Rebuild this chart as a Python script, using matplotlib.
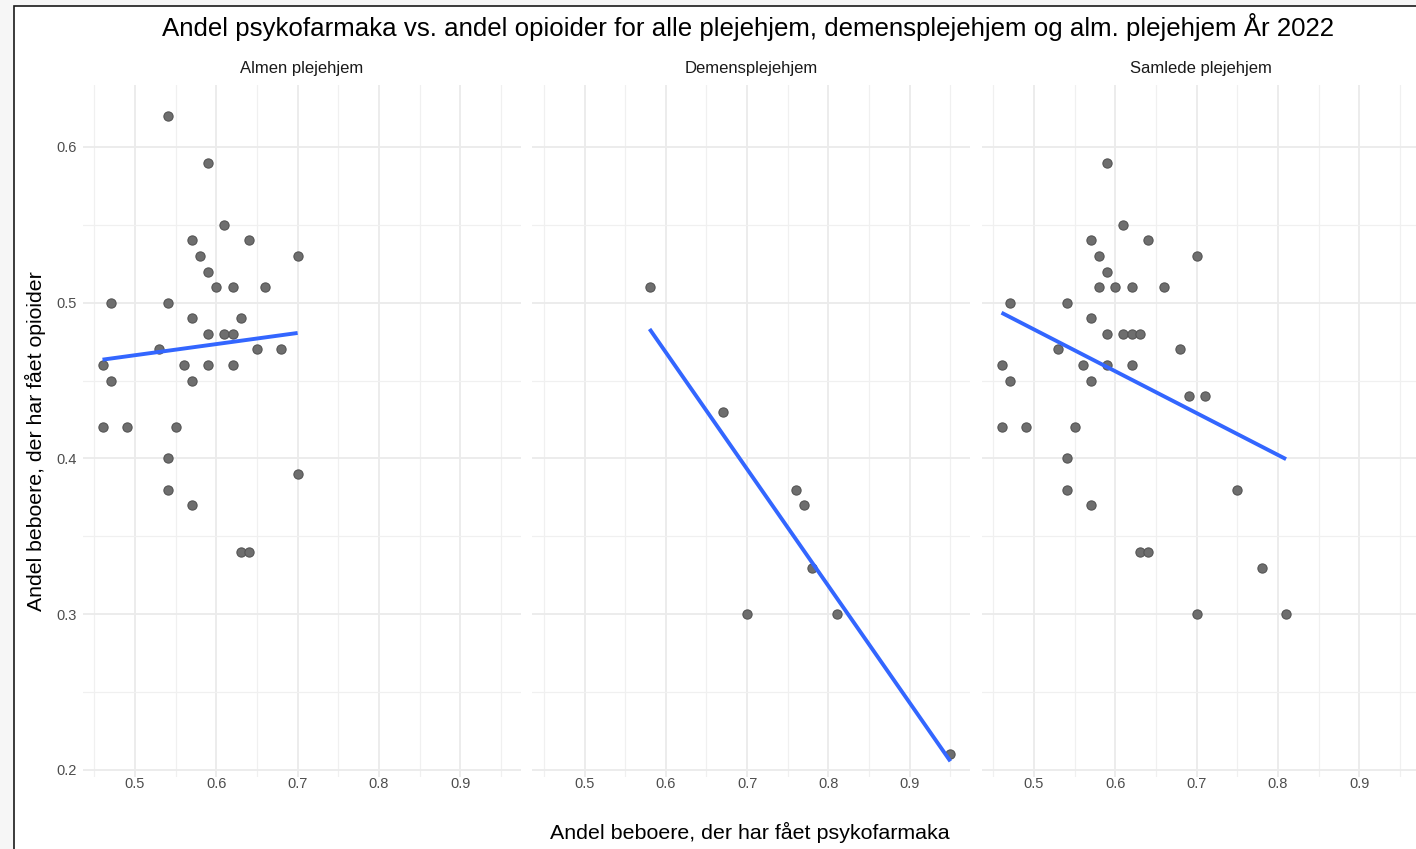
import numpy as np
import matplotlib
matplotlib.use("Agg")
import matplotlib.pyplot as plt
from matplotlib.patches import Rectangle
from matplotlib.ticker import MultipleLocator

plt.rcParams['font.family'] = ['Liberation Sans', 'DejaVu Sans']

title = "Andel psykofarmaka vs. andel opioider for alle plejehjem, demensplejehjem og alm. plejehjem År 2022"
panel_titles = ["Almen plejehjem", "Demensplejehjem", "Samlede plejehjem"]
xlabel = "Andel beboere, der har fået psykofarmaka"
ylabel = "Andel beboere, der har fået opioider"

almen_x = [0.54, 0.59, 0.61, 0.57, 0.64, 0.58, 0.70, 0.59, 0.60, 0.62, 0.66, 0.47,
           0.54, 0.57, 0.63, 0.59, 0.61, 0.62, 0.53, 0.65, 0.68, 0.46, 0.56, 0.59,
           0.62, 0.47, 0.57, 0.46, 0.49, 0.55, 0.54, 0.54, 0.57, 0.63, 0.64, 0.70]
almen_y = [0.62, 0.59, 0.55, 0.54, 0.54, 0.53, 0.53, 0.52, 0.51, 0.51, 0.51, 0.50,
           0.50, 0.49, 0.49, 0.48, 0.48, 0.48, 0.47, 0.47, 0.47, 0.46, 0.46, 0.46,
           0.46, 0.45, 0.45, 0.42, 0.42, 0.42, 0.40, 0.38, 0.37, 0.34, 0.34, 0.39]

demens_x = [0.58, 0.67, 0.76, 0.77, 0.78, 0.70, 0.81, 0.95]
demens_y = [0.51, 0.43, 0.38, 0.37, 0.33, 0.30, 0.30, 0.21]

samlet_x = [0.59, 0.61, 0.57, 0.64, 0.58, 0.70, 0.59, 0.58, 0.60, 0.62, 0.66, 0.47,
            0.54, 0.57, 0.59, 0.61, 0.62, 0.63, 0.53, 0.68, 0.46, 0.56, 0.59, 0.62,
            0.47, 0.57, 0.69, 0.71, 0.46, 0.49, 0.55, 0.54, 0.54, 0.57, 0.63, 0.64,
            0.75, 0.78, 0.70, 0.81]
samlet_y = [0.59, 0.55, 0.54, 0.54, 0.53, 0.53, 0.52, 0.51, 0.51, 0.51, 0.51, 0.50,
            0.50, 0.49, 0.48, 0.48, 0.48, 0.48, 0.47, 0.47, 0.46, 0.46, 0.46, 0.46,
            0.45, 0.45, 0.44, 0.44, 0.42, 0.42, 0.42, 0.40, 0.38, 0.37, 0.34, 0.34,
            0.38, 0.33, 0.30, 0.30]

xticks = [0.5, 0.6, 0.7, 0.8, 0.9]
yticks = [0.2, 0.3, 0.4, 0.5, 0.6]

W, H = 1416, 849
fig = plt.figure(figsize=(W / 100, H / 100), dpi=100, facecolor='#f6f6f6')
fig.patches.append(Rectangle((14.5 / W, -0.02), 1.05, 1 - 5.5 / H + 0.02,
                             transform=fig.transFigure, facecolor='white',
                             edgecolor='#1a1a1a', linewidth=1.2, zorder=-5))

lefts = [82.6, 532.1, 981.6]
aw = 438.2
top_px, bot_px = 85, 777
datasets = [(almen_x, almen_y), (demens_x, demens_y), (samlet_x, samlet_y)]
xlim = (0.4355, 0.9745)
ylim = (0.1955, 0.6398)

for i, (l, (xs, ys)) in enumerate(zip(lefts, datasets)):
    ax = fig.add_axes([l / W, 1 - bot_px / H, aw / W, (bot_px - top_px) / H])
    ax.set_facecolor('none')
    ax.set_xlim(*xlim)
    ax.set_ylim(*ylim)
    ax.set_xticks(xticks)
    ax.set_yticks(yticks)
    ax.xaxis.set_minor_locator(MultipleLocator(0.05))
    ax.yaxis.set_minor_locator(MultipleLocator(0.05))
    ax.grid(True, which='major', color='#ebebeb', linewidth=1.3)
    ax.grid(True, which='minor', color='#f0f0f0', linewidth=0.9)
    ax.set_axisbelow(True)
    for s in ax.spines.values():
        s.set_visible(False)
    ax.tick_params(which='both', length=0, colors='#4d4d4d', labelsize=10.5)
    ax.tick_params(axis='x', pad=0)
    ax.tick_params(axis='y', pad=4)
    if i > 0:
        ax.set_yticklabels([])
    ax.scatter(xs, ys, s=44, color='#6e6e6e', edgecolor='#555555', linewidth=0.8, zorder=3)
    b, a = np.polyfit(xs, ys, 1)
    xx = np.array([min(xs), max(xs)])
    ax.plot(xx, a + b * xx, color='#3366FF', linewidth=2.8, zorder=4,
            solid_capstyle='butt')
    ax.set_title(panel_titles[i], fontsize=12.0, color='#1a1a1a', pad=9)

fig.text(748 / W, 1 - 27 / H, title, ha='center', va='center', fontsize=18.6, color='black')
fig.text(750 / W, 1 - 832 / H, xlabel, ha='center', va='center', fontsize=15.4, color='black')
fig.text(35 / W, 1 - 441 / H, ylabel, ha='center', va='center', rotation=90, fontsize=15.3, color='black')

fig.savefig('out.png', dpi=100, facecolor=fig.get_facecolor())
